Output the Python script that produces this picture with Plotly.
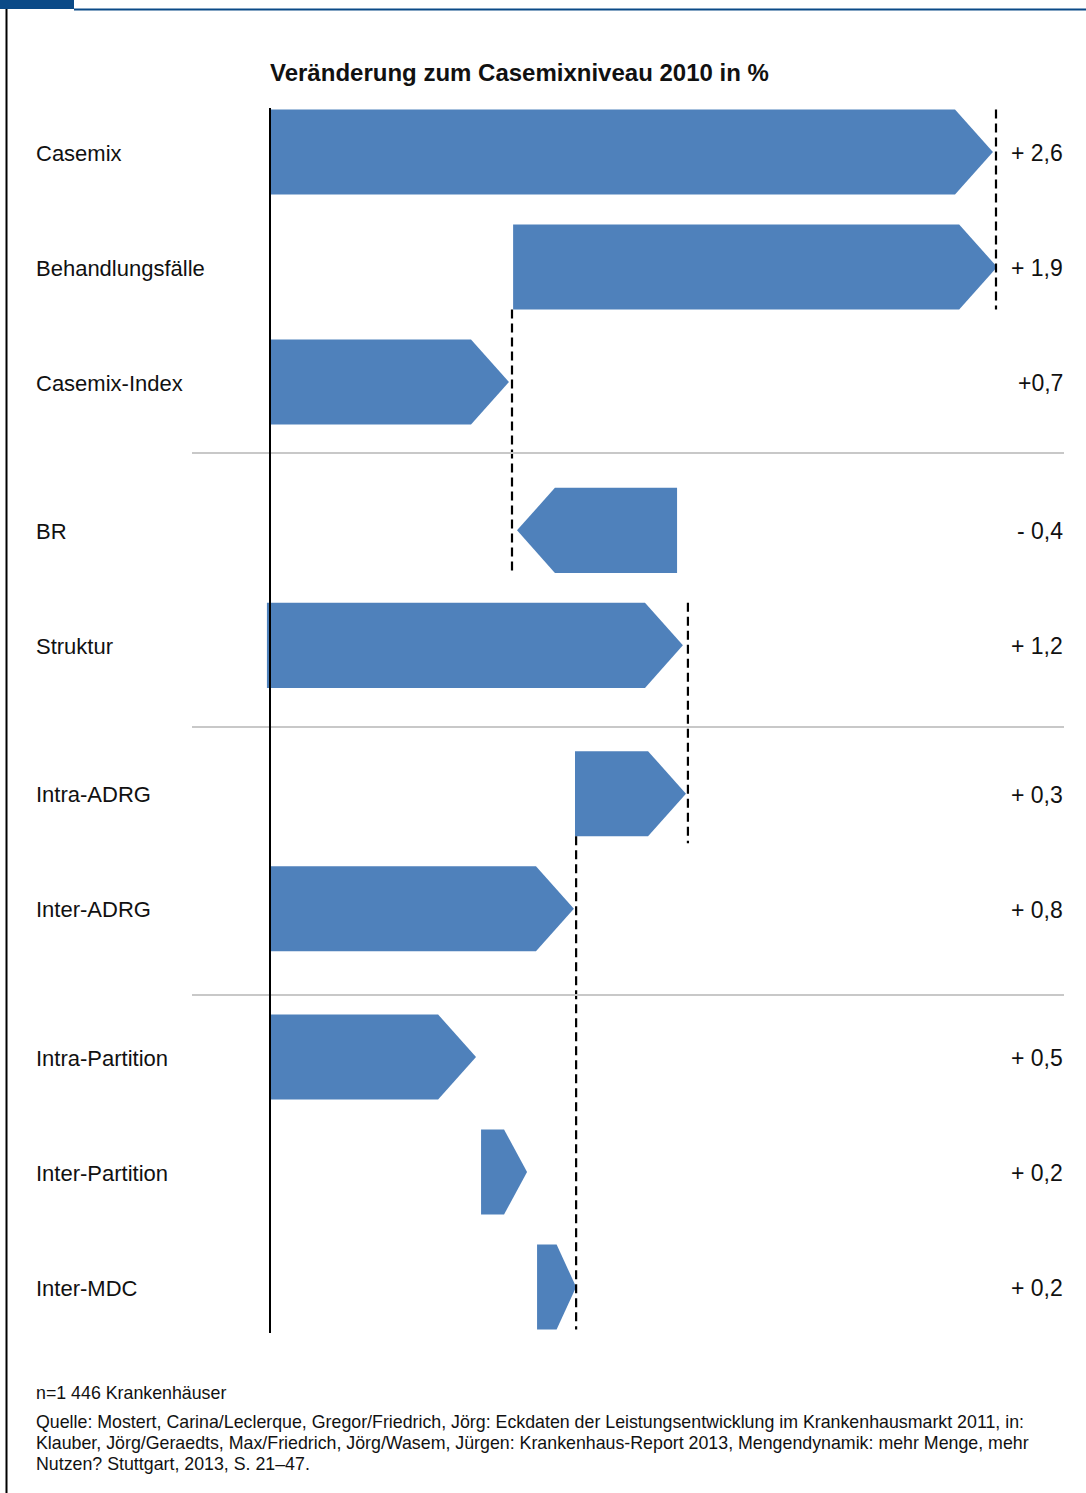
import plotly.graph_objects as go

# ---------------- data ----------------
categories = ["Casemix", "Behandlungsfälle", "Casemix-Index", "BR", "Struktur",
              "Intra-ADRG", "Inter-ADRG", "Intra-Partition", "Inter-Partition", "Inter-MDC"]
groups = [0, 0, 0, 1, 1, 2, 2, 3, 3, 3]
value_labels = ["+ 2,6", "+ 1,9", "+0,7", "- 0,4", "+ 1,2",
                "+ 0,3", "+ 0,8", "+ 0,5", "+ 0,2", "+ 0,2"]
# arrow start / end positions (in % change)
starts = [0.0, 0.872, 0.0, 1.460, -0.011, 1.094, 0.0, 0.0, 0.757, 0.958]
ends = [2.593, 2.608, 0.857, 0.886, 1.481, 1.492, 1.090, 0.739, 0.922, 1.098]
# dashed connector lines: x value, from row (edge), to row (bottom)
conn_x = [2.604, 0.868, 1.499, 1.098]
conn_from = [0, 1, 4, 5]
conn_from_edge = ["top", "bottom", "top", "bottom"]
conn_to = [1, 3, 5, 9]

title = "Veränderung zum Casemixniveau 2010 in %"
note = "n=1 446 Krankenhäuser"
source_lines = [
    "Quelle: Mostert, Carina/Leclerque, Gregor/Friedrich, Jörg: Eckdaten der Leistungsentwicklung im Krankenhausmarkt 2011, in:",
    "Klauber, Jörg/Geraedts, Max/Friedrich, Jörg/Wasem, Jürgen: Krankenhaus-Report 2013, Mengendynamik: mehr Menge, mehr",
    "Nutzen? Stuttgart, 2013, S. 21–47.",
]

# ---------------- layout constants ----------------
W, H = 1086, 1493
L, R, T, B = 192, 22, 108, 160
PX_PER_UNIT = 278.8
ROW_PX = 115.0
X0_PX = 270
ROW0_PX = 152
GAP = 0.29
HH = 0.37          # half bar height in row units
HEAD = 0.136       # arrow head length in % units
BLUE = "#4f81bb"
FONT = "Liberation Sans, Arial, sans-serif"
TXT = "#111111"

xr = [(L - X0_PX) / PX_PER_UNIT, (W - R - X0_PX) / PX_PER_UNIT]
yr = [(H - B - ROW0_PX) / ROW_PX, (T - ROW0_PX) / ROW_PX]

def px_to_paper_x(px):
    return (px - L) / (W - L - R)

def px_to_paper_y(py):
    return (H - B - py) / (H - T - B)

pos = [i + g * GAP for i, g in enumerate(groups)]

fig = go.Figure()

# arrows
for s, e, y in zip(starts, ends, pos):
    d = 1 if e >= s else -1
    h = min(HEAD, abs(e - s) / 2)
    body = e - d * h
    xs = [s, body, e, body, s, s]
    ys = [y - HH, y - HH, y, y + HH, y + HH, y - HH]
    fig.add_trace(go.Scatter(x=xs, y=ys, mode="lines", fill="toself",
                             fillcolor=BLUE, line=dict(width=0, color=BLUE),
                             hoverinfo="skip", showlegend=False))

shapes = []
# dashed connectors
for k, (cx, fr, edge, to) in enumerate(zip(conn_x, conn_from, conn_from_edge, conn_to)):
    y_a = pos[fr] - HH if edge == "top" else pos[fr] + HH
    y_b = pos[to] + HH + (0.06 if k == 2 else 0)
    shapes.append(dict(type="line", xref="x", yref="y", x0=cx, x1=cx, y0=y_a, y1=y_b,
                       line=dict(color="black", width=2.2, dash="9px,5px")))

# group separators
sep_y = [(453 - ROW0_PX) / ROW_PX, (727 - ROW0_PX) / ROW_PX, (995 - ROW0_PX) / ROW_PX]
for sy in sep_y:
    shapes.append(dict(type="line", xref="paper", yref="y", x0=0, x1=1, y0=sy, y1=sy,
                       line=dict(color="#c8c8c8", width=2)))

# zero axis line
shapes.append(dict(type="line", xref="x", yref="paper", x0=0, x1=0, y0=0, y1=1,
                   line=dict(color="black", width=2)))

# frame: top-left block, top line, left border
shapes.append(dict(type="rect", xref="paper", yref="paper",
                   x0=px_to_paper_x(0), x1=px_to_paper_x(74),
                   y0=px_to_paper_y(9), y1=px_to_paper_y(-2),
                   fillcolor="#0b4a87", line=dict(width=0)))
shapes.append(dict(type="line", xref="paper", yref="paper",
                   x0=px_to_paper_x(74), x1=px_to_paper_x(1090),
                   y0=px_to_paper_y(9.5), y1=px_to_paper_y(9.5),
                   line=dict(color="#0b4a87", width=2)))
shapes.append(dict(type="line", xref="paper", yref="paper",
                   x0=px_to_paper_x(6.5), x1=px_to_paper_x(6.5),
                   y0=px_to_paper_y(9), y1=px_to_paper_y(1500),
                   line=dict(color="black", width=2)))

annotations = []
for cat, lab, y in zip(categories, value_labels, pos):
    annotations.append(dict(text=cat, xref="paper", yref="y", x=px_to_paper_x(34), y=y,
                            xanchor="left", yanchor="middle", showarrow=False, yshift=-1,
                            font=dict(family=FONT, size=22, color=TXT)))
    annotations.append(dict(text=lab, xref="paper", yref="y", x=px_to_paper_x(1065), y=y,
                            xanchor="right", yanchor="middle", showarrow=False, yshift=-1,
                            font=dict(family=FONT, size=23, color=TXT)))

annotations.append(dict(text="<b>" + title + "</b>", xref="paper", yref="paper",
                        x=px_to_paper_x(268), y=px_to_paper_y(72), xanchor="left",
                        yanchor="middle", showarrow=False,
                        font=dict(family=FONT, size=24, color=TXT)))
annotations.append(dict(text=note, xref="paper", yref="paper",
                        x=px_to_paper_x(34), y=px_to_paper_y(1393), xanchor="left",
                        yanchor="middle", showarrow=False,
                        font=dict(family=FONT, size=17.8, color=TXT)))
for j, line in enumerate(source_lines):
    annotations.append(dict(text=line, xref="paper", yref="paper", align="left",
                            x=px_to_paper_x(34), y=px_to_paper_y(1422 + 21 * j),
                            xanchor="left", yanchor="middle", showarrow=False,
                            font=dict(family=FONT, size=17.8, color=TXT)))

fig.update_layout(
    width=W, height=H, margin=dict(l=L, r=R, t=T, b=B, pad=0),
    paper_bgcolor="white", plot_bgcolor="white",
    xaxis=dict(range=xr, visible=False, fixedrange=True),
    yaxis=dict(range=yr, visible=False, fixedrange=True),
    shapes=shapes, annotations=annotations, showlegend=False,
)

fig.write_html("out.html")
